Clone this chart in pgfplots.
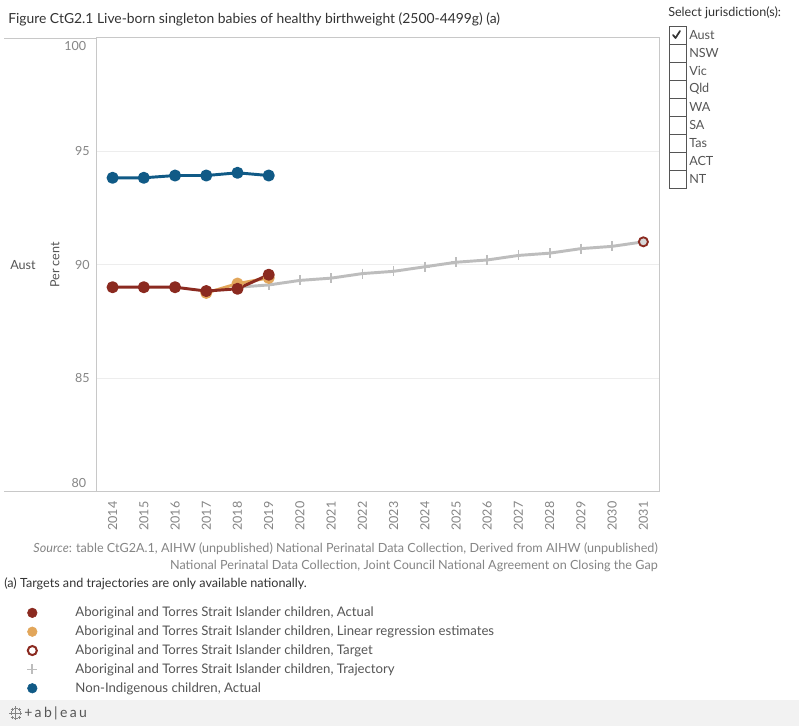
\documentclass[border=0pt]{standalone}
\usepackage{pgfplots}
\pgfplotsset{compat=1.18}
\usepackage{fontspec}
\setmainfont{Lato}

\definecolor{actred}{HTML}{8B2A20}
\definecolor{regorange}{HTML}{E2A65A}
\definecolor{nonblue}{HTML}{105A86}
\definecolor{trajgrey}{HTML}{BDBDBD}
\definecolor{axisgrey}{HTML}{C8C8C8}
\definecolor{gridgrey}{HTML}{EDEDED}
\definecolor{tickgrey}{HTML}{858585}
\definecolor{textgrey}{HTML}{555555}
\definecolor{titlegrey}{HTML}{333333}
\definecolor{footgrey}{HTML}{F2F2F2}

\newcommand{\tickfont}{\fontsize{9.4}{10}\selectfont}
\newcommand{\txtfont}{\fontsize{9.45}{11}\selectfont}
\newcommand{\legfont}{\fontsize{9.9}{11}\selectfont}

\begin{document}
\begin{tikzpicture}[x=0.75pt,y=-0.75pt]
\fill[white] (0,0) rectangle (799,726);
\fill[footgrey] (0,700) rectangle (799,726);

% title
\node[anchor=west, inner sep=0, text=titlegrey, font=\fontsize{10.4}{12}\selectfont] at (8,19)
  {Figure CtG2.1 Live-born singleton babies of healthy birthweight (2500-4499g) (a)};

% pane lines left of the axis
\draw[axisgrey, line width=0.75pt] (4,38.5) -- (97,38.5);
\draw[axisgrey, line width=0.75pt] (4,491.5) -- (97,491.5);
\node[text=textgrey, font=\txtfont] at (23,265) {Aust};
\node[rotate=90, text=textgrey, font=\txtfont] at (55,265) {Per cent};

\coordinate (axisSW) at (97,491.5);

\begin{axis}[
  at={(axisSW)}, anchor=south west, scale only axis,
  width=421.5pt, height=340.5pt,
  xmin=2013.5, xmax=2031.5, ymin=80, ymax=100,
  axis line style={draw=axisgrey, line width=0.75pt},
  xtick={2014,...,2031}, minor x tick num=1,
  ytick={85,90,95}, ymajorgrids,
  major grid style={draw=gridgrey, line width=0.75pt},
  major tick length=0pt, minor tick length=5pt, tick align=outside,
  minor tick style={draw=gridgrey, line width=0.75pt},
  xtick pos=bottom, ytick pos=left,
  /pgf/number format/1000 sep={},
  /pgf/number format/assume math mode=true,
  tick label style={font=\tickfont, text=tickgrey},
  x tick label style={rotate=90, anchor=east, xshift=-4pt},
  y tick label style={xshift=-2pt},
  clip=false,
  legend style={at={(axis description cs:-0.1317,-0.242)}, anchor=north west,
    draw=none, fill=none,
    font=\legfont, text=textgrey, row sep=1.35pt,
    /tikz/every odd column/.append style={column sep=26.5pt}},
  legend cell align=left,
]
% legend (drawn in the reference order)
\addlegendimage{only marks, mark=*, mark size=3.6pt, color=actred}
\addlegendentry{Aboriginal and Torres Strait Islander children, Actual}
\addlegendimage{only marks, mark=*, mark size=3.6pt, color=regorange}
\addlegendentry{Aboriginal and Torres Strait Islander children, Linear regression estimates}
\addlegendimage{only marks, mark=o, mark size=3.4pt, mark options={line width=1.5pt, fill=white}, color=actred}
\addlegendentry{Aboriginal and Torres Strait Islander children, Target}
\addlegendimage{only marks, mark=+, mark size=3.8pt, mark options={line width=1.3pt}, color=trajgrey}
\addlegendentry{Aboriginal and Torres Strait Islander children, Trajectory}
\addlegendimage{only marks, mark=*, mark size=3.6pt, color=nonblue}
\addlegendentry{Non-Indigenous children, Actual}

% trajectory
\addplot[forget plot, color=trajgrey, line width=2.2pt, line join=round,
  mark=+, mark size=3.8pt, mark options={line width=1.3pt}] coordinates {
  (2018,89.0) (2019,89.1) (2020,89.3) (2021,89.4) (2022,89.6) (2023,89.7)
  (2024,89.9) (2025,90.1) (2026,90.2) (2027,90.4) (2028,90.5) (2029,90.7)
  (2030,90.8) (2031,91.0)};
% linear regression estimates
\addplot[forget plot, color=regorange, line width=2.2pt, line join=round,
  mark=*, mark size=3.4pt] coordinates {
  (2017,88.75) (2018,89.16) (2019,89.41)};
% actual
\addplot[forget plot, color=actred, line width=2.2pt, line join=round,
  mark=*, mark size=3.4pt] coordinates {
  (2014,89.0) (2015,89.0) (2016,89.0) (2017,88.83) (2018,88.93) (2019,89.55)};
% non-Indigenous actual
\addplot[forget plot, color=nonblue, line width=2.2pt, line join=round,
  mark=*, mark size=3.4pt] coordinates {
  (2014,93.82) (2015,93.82) (2016,93.92) (2017,93.92) (2018,94.04) (2019,93.92)};
% target
\addplot[forget plot, only marks, mark=*, mark size=3.4pt,
  mark options={draw=actred, fill=trajgrey!60, line width=1.4pt}] coordinates {
  (2031,91.0)};

% end labels of the y axis, set inside as in the reference
\node[anchor=north east, inner sep=0, font=\tickfont, text=tickgrey, xshift=-8pt, yshift=-3pt]
  at (axis cs:2013.5,100) {100};
\node[anchor=south east, inner sep=0, font=\tickfont, text=tickgrey, xshift=-8pt, yshift=3pt]
  at (axis cs:2013.5,80) {80};
\end{axis}

% source and note
\node[anchor=east, inner sep=0, text=tickgrey, font=\txtfont] at (658,549)
  {\textit{Source}: table CtG2A.1, AIHW (unpublished) National Perinatal Data Collection, Derived from AIHW (unpublished)};
\node[anchor=east, inner sep=0, text=tickgrey, font=\txtfont] at (658,566)
  {National Perinatal Data Collection, Joint Council National Agreement on Closing the Gap};
\node[anchor=west, inner sep=0, text=titlegrey, font=\txtfont] at (4,584)
  {(a) Targets and trajectories are only available nationally.};

% jurisdiction filter
\node[anchor=west, inner sep=0, text=titlegrey, font=\txtfont] at (668,13) {Select jurisdiction(s):};
\foreach \j [count=\i from 0] in {Aust,NSW,Vic,Qld,WA,SA,Tas,ACT,NT} {
  \draw[textgrey, line width=0.75pt] (669,26+18*\i) rectangle (686,44+18*\i);
  \node[anchor=west, inner sep=0, text=textgrey, font=\txtfont] at (689,35+18*\i) {\j};
}
\draw[titlegrey, line width=1.3pt, line cap=round, line join=round] (673,35) -- (675.5,38) -- (680,31);

% tableau logo
\begin{scope}[tickgrey, line width=0.6pt]
  \foreach \cx/\cy/\s in {15.5/713/4, 11/713/2, 20/713/2, 15.5/708/2, 15.5/718/2, 12/709/1.5, 19/709/1.5, 12/717/1.5, 19/717/1.5} {
    \draw (\cx-\s,\cy) -- (\cx+\s,\cy); \draw (\cx,\cy-\s) -- (\cx,\cy+\s);
  }
\end{scope}
\node[anchor=west, inner sep=0, text=textgrey, font=\fontsize{10.5}{12}\selectfont] at (24,713)
  {+\,a\,b\,|\,e\,a\,u};
\end{tikzpicture}
\end{document}
